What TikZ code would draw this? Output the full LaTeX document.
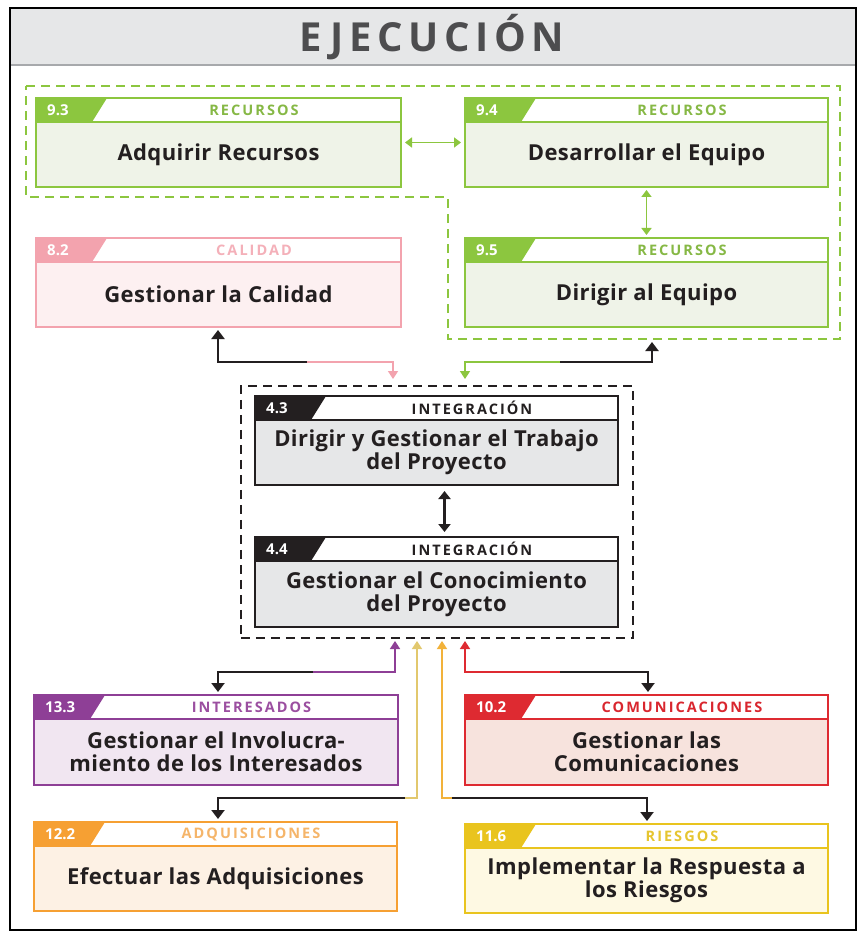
\documentclass[tikz,border=0pt]{standalone}
\usepackage{fontspec}
\setmainfont{Open Sans}
\usetikzlibrary{arrows.meta,calc}
\definecolor{ctext}{HTML}{231F20}
\definecolor{ctitle}{HTML}{4D4D4F}
\definecolor{cband}{HTML}{E6E7E8}
\definecolor{cbandline}{HTML}{A7A9AC}
\definecolor{cres}{HTML}{8CC63F}
\definecolor{cresbg}{HTML}{EFF3E8}
\definecolor{crestxt}{HTML}{86B845}
\definecolor{ccal}{HTML}{F3A3AE}
\definecolor{ccalbg}{HTML}{FDF0F1}
\definecolor{ccaltxt}{HTML}{F4B0B9}
\definecolor{cint}{HTML}{231F20}
\definecolor{cintbg}{HTML}{E6E7E8}
\definecolor{cinttxt}{HTML}{231F20}
\definecolor{cpur}{HTML}{8E3F96}
\definecolor{cpurbg}{HTML}{F1E6F1}
\definecolor{cpurtxt}{HTML}{9B4FA0}
\definecolor{ccom}{HTML}{DE2A31}
\definecolor{ccombg}{HTML}{F7E3DD}
\definecolor{ccomtxt}{HTML}{D9262E}
\definecolor{cadq}{HTML}{F6A033}
\definecolor{cadqbg}{HTML}{FDF1E4}
\definecolor{cadqtxt}{HTML}{F5B56A}
\definecolor{cries}{HTML}{E9C41E}
\definecolor{criesbg}{HTML}{FEF9E3}
\definecolor{criestxt}{HTML}{E6C530}
\definecolor{cadqline}{HTML}{E2C86E}
\definecolor{criesline}{HTML}{F2B23A}
\tikzset{
  maintext/.style={font=\bfseries\fontsize{22}{23}\selectfont\addfontfeature{LetterSpace=2}, text=ctext, align=center, inner sep=0pt},
  numtext/.style={font=\bfseries\fontsize{15}{16}\selectfont, text=white, inner sep=0pt},
  cattext/.style={font=\bfseries\fontsize{14.5}{16}\selectfont\addfontfeature{LetterSpace=14}, inner sep=0pt},
  titletext/.style={font=\bfseries\fontsize{40}{42}\selectfont\addfontfeature{LetterSpace=14}, text=ctitle, inner sep=0pt},
  procbox/.style={inner sep=0pt, outer sep=0pt},
  blk/.style={line width=2.4pt, draw=ctext, -{Triangle[length=9pt,width=13pt]}},
  col/.style={line width=1.6pt, draw=#1, -{Triangle[length=8pt,width=10pt]}, #1},
  blkdbl/.style={line width=2.4pt, draw=ctext, {Triangle[length=8pt,width=12pt]}-{Triangle[length=8pt,width=12pt]}},
  coldbl/.style={line width=1.6pt, draw=#1, {Triangle[length=7pt,width=10pt]}-{Triangle[length=7pt,width=10pt]}, #1},
  grpdash/.style={line width=1.8pt, dash pattern=on 9pt off 6pt},
}
\newcommand{\pbox}[9]{%
  \pgfmathsetmacro\pbR{#2+#4}%
  \pgfmathsetmacro\pbB{#3+#5}%
  \pgfmathsetmacro\pbH{#3+24}%
  \pgfmathsetmacro\pbT{#2+71}%
  \pgfmathsetmacro\pbU{#2+56}%
  \pgfmathsetmacro\pbX{(#2+71+#2+#4)/2}%
  \pgfmathsetmacro\pbY{#3+12}%
  \pgfmathsetmacro\pbM{(#3+24+#3+#5)/2}%
  \pgfmathsetmacro\pbC{#2+#4/2}%
  \pgfmathsetmacro\pbN{#2+11}%
  \node[procbox, fill=#6bg, minimum width=#4pt, minimum height=#5pt, anchor=north west] (#1) at (#2,#3) {};
  \fill[white] (#2,#3) rectangle (\pbR,\pbH);
  \fill[#6] (#2,#3) -- (\pbT,#3) -- (\pbU,\pbH) -- (#2,\pbH) -- cycle;
  \draw[#6, line width=2pt] (#2,\pbH) -- (\pbR,\pbH);
  \draw[#6, line width=2.5pt] (#1.north west) rectangle (#1.south east);
  \node[numtext, anchor=west] (#1n) at (\pbN,\pbY) {#7};
  \node[cattext, text=#6txt] (#1c) at (\pbX,\pbY) {#8};
  \node[maintext] (#1t) at (\pbC,\pbM) {#9};
}
\begin{document}
\begin{tikzpicture}[x=1pt,y=-1pt]
\useasboundingbox (0,0) rectangle (858,933);
\fill[white] (0,0) rectangle (858,933);
% title band and frame
\fill[cband] (10,8) rectangle (856,65);
\draw[cbandline, line width=2.5pt] (10,65) -- (856,65);
\draw[black, line width=2.5pt] (10,8) rectangle (856,930);
\node[titletext] (ttl) at (432,37) {EJECUCIÓN};
% groups
\draw[cres, grpdash] (26,86) -- (840,86) -- (840,339) -- (448,339) -- (448,197) -- (26,197) -- cycle;
\coordinate (rgb) at (652,339);
\node[draw=ctext, grpdash, minimum width=392pt, minimum height=252pt, anchor=north west, inner sep=0pt] (grp) at (240,385) {};
% boxes
\pbox{b93}{36}{98}{365}{89}{cres}{9.3}{RECURSOS}{Adquirir Recursos}
\pbox{b94}{465}{98}{363}{89}{cres}{9.4}{RECURSOS}{Desarrollar el Equipo}
\pbox{b82}{36}{238}{365}{89}{ccal}{8.2}{CALIDAD}{Gestionar la Calidad}
\pbox{b95}{465}{238}{363}{89}{cres}{9.5}{RECURSOS}{Dirigir al Equipo}
\pbox{b43}{255}{396}{363}{89}{cint}{4.3}{INTEGRACIÓN}{Dirigir y Gestionar el Trabajo\\del Proyecto}
\pbox{b44}{255}{537}{363}{90}{cint}{4.4}{INTEGRACIÓN}{Gestionar el Conocimiento\\del Proyecto}
\pbox{b133}{34}{695}{364}{90}{cpur}{13.3}{INTERESADOS}{Gestionar el Involucra-\\miento de los Interesados}
\pbox{b102}{465}{695}{363}{90}{ccom}{10.2}{COMUNICACIONES}{Gestionar las\\Comunicaciones}
\pbox{b122}{34}{822}{363}{89}{cadq}{12.2}{ADQUISICIONES}{Efectuar las Adquisiciones}
\pbox{b116}{465}{824}{363}{89}{cries}{11.6}{RIESGOS}{Implementar la Respuesta a\\los Riesgos}
% arrows between boxes
\draw[coldbl=cres] ([xshift=4pt]b93.east) -- ([xshift=-4pt]b94.west);
\draw[coldbl=cres] ([yshift=-3pt]b94.south) -- ([yshift=3pt]b95.north);
\draw[blkdbl] ([xshift=8pt,yshift=-6pt]b43.south) -- ([xshift=8pt,yshift=5pt]b44.north);
% calidad
\coordinate (cq) at (307,362);
\draw[col=ccal] (cq) -| (393,379);
\draw[blk] (cq) -| (218,330);
% recursos
\coordinate (cr) at (560,362);
\draw[col=cres] (cr) -| (465,379);
\draw[blk] (cr) -| ($(rgb)+(0,3)$);
% interesados
\coordinate (cs) at (313,672);
\draw[col=cpur] (cs) -| (395,641);
\draw[blk] (cs) -| (218,692);
% comunicaciones
\coordinate (cc) at (560,672);
\draw[col=ccom] (cc) -| (465,641);
\draw[blk] (cc) -| (648,692);
% adquisiciones
\coordinate (ca) at (405,798);
\draw[col=cadqline] (ca) -| (417,641);
\draw[blk] (ca) -| (218,819);
% riesgos
\coordinate (cy) at (452,798);
\draw[col=criesline] (cy) -| (442,641);
\draw[blk] (cy) -| (647,821);
\end{tikzpicture}
\end{document}
